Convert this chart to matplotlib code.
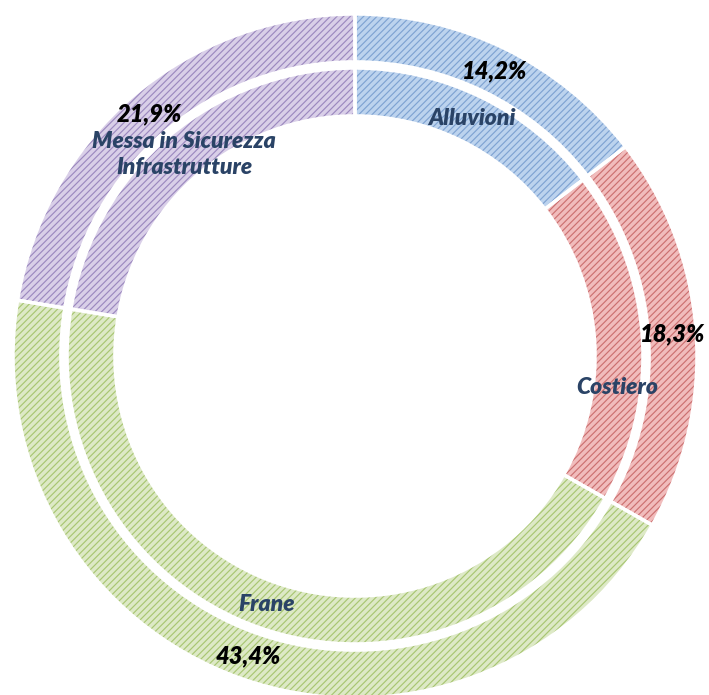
import numpy as np
import matplotlib
matplotlib.use("Agg")
import matplotlib.pyplot as plt

categorie = ['Alluvioni', 'Costiero', 'Frane', 'Messa in Sicurezza\nInfrastrutture']
valori = [14.2, 18.3, 43.4, 21.9]
etichette_pct = ['14,2%', '18,3%', '43,4%', '21,9%']

fondo = ['#bcd3ee', '#f1bcbc', '#dde9c6', '#d9cfe8']
tratteggio = ['#7fa3d2', '#cc7070', '#a8c672', '#9c89bf']

plt.rcParams['hatch.linewidth'] = 0.85
plt.rcParams['font.family'] = ['Lato', 'DejaVu Sans']

fig = plt.figure(figsize=(7.09, 6.95), dpi=100)
ax = fig.add_axes([0, 0, 1, 1])
ax.axis('off')

anelli = [(1.0, 0.14), (0.842, 0.14)]
for r, w in anelli:
    ax.pie(valori, radius=r, startangle=90, counterclock=False, colors=fondo,
           wedgeprops=dict(width=w, linewidth=0))
    # il colore del bordo diventa il colore del tratteggio
    wedges, _ = ax.pie(valori, radius=r, startangle=90, counterclock=False,
                       wedgeprops=dict(width=w, linewidth=0, facecolor='none'))
    for wd, c in zip(wedges, tratteggio):
        wd.set_edgecolor(c)
        wd.set_hatch('/////')
    # bordi bianchi
    ax.pie(valori, radius=r, startangle=90, counterclock=False,
           wedgeprops=dict(width=w, linewidth=2.5, edgecolor='white', facecolor='none'))

tot = sum(valori)
cum = np.cumsum([0] + valori[:-1])
mid = 90 - 360 * (cum + np.array(valori) / 2) / tot
spost = [0, -11, 0, 0]

for i in range(len(valori)):
    a = np.deg2rad(mid[i])
    ax.text(0.93 * np.cos(a), 0.93 * np.sin(a), etichette_pct[i], ha='center', va='center',
            fontsize=17, fontweight='heavy', fontstyle='italic', color='black')
    b = np.deg2rad(mid[i] + spost[i])
    ax.text(0.772 * np.cos(b), 0.772 * np.sin(b), categorie[i], ha='center', va='center',
            fontsize=16.5, fontweight='heavy', fontstyle='italic', color='#2a4366',
            linespacing=1.32)

ax.set_xlim(-355 / 342, 354 / 342)
ax.set_ylim(-339 / 342, 356 / 342)
ax.set_aspect('auto')

fig.savefig('out.png', dpi=100)
